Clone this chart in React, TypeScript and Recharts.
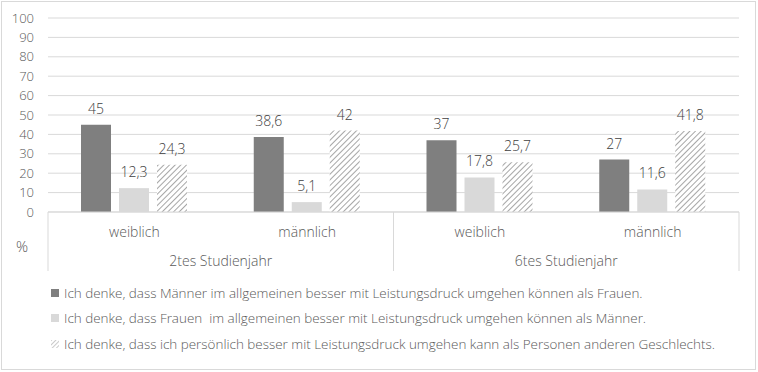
import { BarChart, Bar, XAxis, YAxis, CartesianGrid, Legend, LabelList } from "recharts";

const genders = ["weiblich", "männlich", "weiblich", "männlich"];
const years = ["2tes Studienjahr", "2tes Studienjahr", "6tes Studienjahr", "6tes Studienjahr"];
const menBetter = [45, 38.6, 37, 27];
const womenBetter = [12.3, 5.1, 17.8, 11.6];
const selfBetter = [24.3, 42, 25.7, 41.8];
const yTicks = [0, 10, 20, 30, 40, 50, 60, 70, 80, 90, 100];
const seriesNames = [
  "Ich denke, dass Männer im allgemeinen besser mit Leistungsdruck umgehen können als Frauen.",
  "Ich denke, dass Frauen  im allgemeinen besser mit Leistungsdruck umgehen können als Männer.",
  "Ich denke, dass ich persönlich besser mit Leistungsdruck umgehen kann als Personen anderen Geschlechts.",
];

const data = genders.map((g, i) => ({
  gender: g,
  year: years[i],
  men: menBetter[i],
  women: womenBetter[i],
  self: selfBetter[i],
}));

const FONT = "'Open Sans', sans-serif";
const TEXT = "#595959";
const LINE = "#d9d9d9";
const GENDER_H = 30;
const YEAR_GAP = 14; // tickSize + tickMargin on the year axis

const fmt = (v: any) => String(v).replace(".", ",");

// year axis tick: label + separator lines at the band edges
const YearTick = (props: any) => {
  const { x, y, payload } = props;
  const half = payload.offset ?? 0;
  const top = y - YEAR_GAP - GENDER_H;
  return (
    <g>
      <line x1={x - half} x2={x - half} y1={top} y2={top + 59} stroke={LINE} />
      <line x1={x + half} x2={x + half} y1={top} y2={top + 59} stroke={LINE} />
      <text x={x} y={y} dy="0.71em" textAnchor="middle" fill={TEXT} fontSize={14} fontWeight={300} fontFamily={FONT}>
        {payload.value}
      </text>
    </g>
  );
};

const Marker = ({ kind }: { kind: number }) => (
  <svg width={8} height={8} style={{ marginRight: 5, flex: "none" }}>
    <defs>
      <pattern id="hatchLegend" patternUnits="userSpaceOnUse" width={3} height={3} patternTransform="rotate(45)">
        <rect width={3} height={3} fill="#fff" />
        <line x1={0} y1={0} x2={0} y2={3} stroke="#b8b8b8" strokeWidth={1.5} />
      </pattern>
    </defs>
    <rect width={8} height={8} fill={kind === 0 ? "#7f7f7f" : kind === 1 ? "#d9d9d9" : "url(#hatchLegend)"} />
  </svg>
);

const LegendBox = () => (
  <div style={{ height: 100, paddingTop: 8, paddingLeft: 51, boxSizing: "border-box" }}>
    {seriesNames.map((n, i) => (
      <div
        key={i}
        style={{
          display: "flex",
          alignItems: "center",
          height: 25.5,
          fontFamily: FONT,
          fontSize: 13.45,
          fontWeight: 300,
          color: TEXT,
          whiteSpace: "pre",
        }}
      >
        <Marker kind={i} />
        {n}
      </div>
    ))}
  </div>
);

export default function App() {
  return (
    <div style={{ position: "absolute", left: 0, top: 0, width: 758, height: 372, background: "#fff" }}>
      <div
        style={{
          position: "absolute",
          left: 1,
          top: 1,
          width: 755,
          height: 369,
          border: `1px solid ${LINE}`,
          boxSizing: "border-box",
        }}
      />
      <BarChart
        width={758}
        height={372}
        data={data}
        margin={{ top: 18, right: 19, left: 0, bottom: 0 }}
        barSize={30}
        barGap={8}
      >
        <defs>
          <pattern id="hatch" patternUnits="userSpaceOnUse" width={4} height={4} patternTransform="rotate(45)">
            <rect width={4} height={4} fill="#fff" />
            <line x1={0} y1={0} x2={0} y2={4} stroke="#a6a6a6" strokeWidth={2} />
          </pattern>
        </defs>
        <CartesianGrid vertical={false} stroke={LINE} />
        <YAxis
          domain={[0, 100]}
          ticks={yTicks}
          interval={0}
          width={48}
          axisLine={false}
          tickLine={false}
          tickMargin={8}
          tick={{ fill: TEXT, fontSize: 13, fontWeight: 300, fontFamily: FONT }}
        />
        <XAxis
          xAxisId="gender"
          dataKey="gender"
          height={GENDER_H}
          axisLine={{ stroke: LINE }}
          tickLine={false}
          tickMargin={9}
          interval={0}
          tick={{ fill: TEXT, fontSize: 14, fontWeight: 300, fontFamily: FONT }}
        />
        <XAxis
          xAxisId="year"
          dataKey="year"
          allowDuplicatedCategory={false}
          height={30}
          axisLine={false}
          tickLine={false}
          tickMargin={8}
          interval={0}
          tick={<YearTick />}
        />
        <Legend verticalAlign="bottom" content={() => <LegendBox />} />
        <Bar xAxisId="gender" dataKey="men" name={seriesNames[0]} fill="#7f7f7f" isAnimationActive={false}>
          <LabelList dataKey="men" position="top" offset={11} formatter={fmt} fill="#404040" fontSize={14} fontWeight={300} fontFamily={FONT} />
        </Bar>
        <Bar xAxisId="gender" dataKey="women" name={seriesNames[1]} fill="#d9d9d9" isAnimationActive={false}>
          <LabelList dataKey="women" position="top" offset={11} formatter={fmt} fill="#404040" fontSize={14} fontWeight={300} fontFamily={FONT} />
        </Bar>
        <Bar xAxisId="gender" dataKey="self" name={seriesNames[2]} fill="url(#hatch)" isAnimationActive={false}>
          <LabelList dataKey="self" position="top" offset={11} formatter={fmt} fill="#404040" fontSize={14} fontWeight={300} fontFamily={FONT} />
        </Bar>
        <text x={22} y={247} dy="0.35em" textAnchor="middle" fill={TEXT} fontSize={15} fontWeight={300} fontFamily={FONT}>
          %
        </text>
      </BarChart>
    </div>
  );
}
